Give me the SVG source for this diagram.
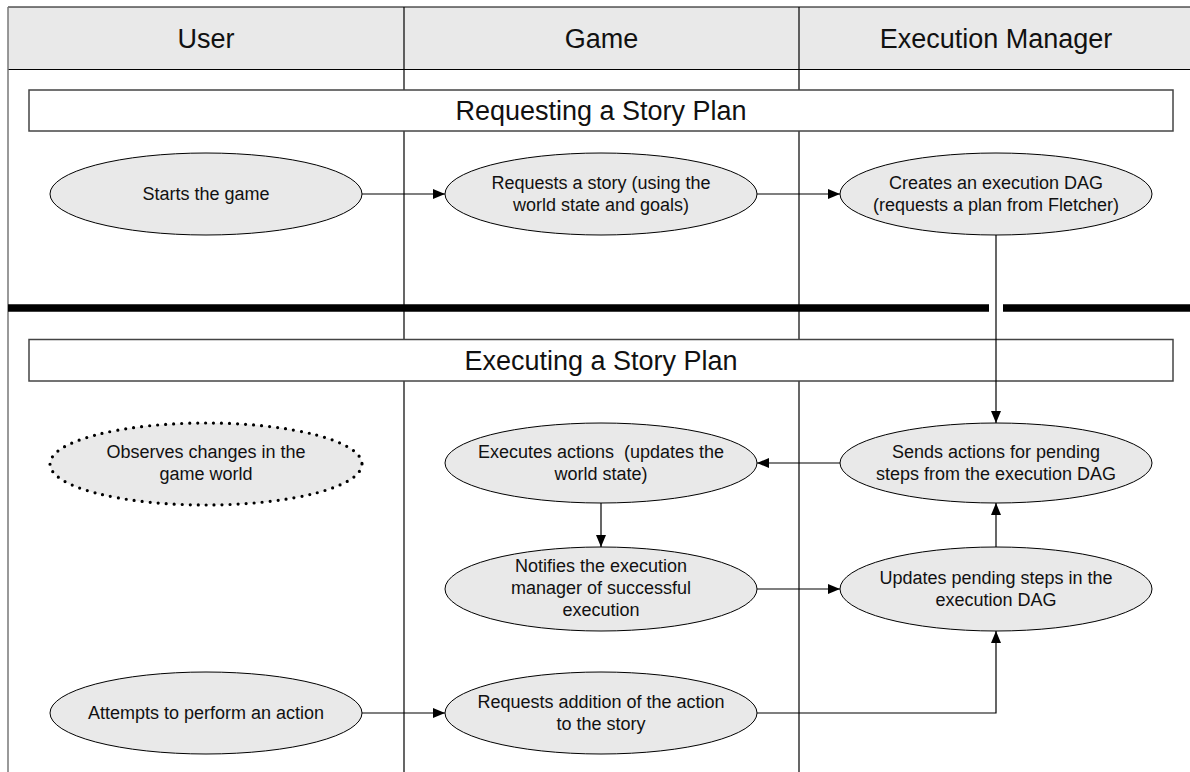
<svg xmlns="http://www.w3.org/2000/svg" width="1190" height="772" viewBox="0 0 1190 772">
  <style>
    .lane { stroke: #000; stroke-width: 1.2; fill: none; }
    .frame { stroke: #777; stroke-width: 1.5; fill: none; }
    .head { fill: #e9e9e9; stroke: none; }
    .htxt { font-family: "Liberation Sans", Arial, sans-serif; font-size: 27px; fill: #111; text-anchor: middle; }
    .phase rect { fill: #fff; stroke: #444; stroke-width: 1.5; }
    .node ellipse { fill: #e9e9e9; stroke: #000; stroke-width: 1; }
    .node text { font-family: "Liberation Sans", Arial, sans-serif; font-size: 18px; fill: #111; text-anchor: middle; white-space: pre; }
    .dotted ellipse { stroke-width: 3.2; stroke-dasharray: 0 8; stroke-linecap: round; }
    .edge { stroke: #000; stroke-width: 1.2; fill: none; marker-end: url(#arrow); }
  </style>
  <defs>
    <marker id="arrow" viewBox="0 0 12 10" refX="12" refY="5" markerWidth="12" markerHeight="10" markerUnits="userSpaceOnUse" orient="auto">
      <path d="M0,0 L12,5 L0,10 Z" fill="#000"/>
    </marker>
  </defs>

  <rect width="1190" height="772" fill="#fff"/>

  <!-- swimlane header and frame -->
  <g id="lanes">
    <rect class="head" x="8" y="7" width="1182" height="62.5"/>
    <line class="lane" x1="8" y1="7" x2="1190" y2="7"/>
    <line class="lane" x1="8" y1="69.5" x2="1190" y2="69.5"/>
    <line class="frame" x1="8" y1="7" x2="8" y2="772"/>
    <line class="lane" x1="404" y1="7" x2="404" y2="772"/>
    <line class="lane" x1="799" y1="7" x2="799" y2="772"/>
    <text class="htxt" x="206" y="47.5">User</text>
    <text class="htxt" x="601.5" y="47.5">Game</text>
    <text class="htxt" x="996" y="47.5">Execution Manager</text>
  </g>

  <!-- phase separator -->
  <g id="separator">
    <line x1="8" y1="308" x2="989" y2="308" stroke="#000" stroke-width="7.5"/>
    <line x1="1003" y1="308" x2="1190" y2="308" stroke="#000" stroke-width="7.5"/>
  </g>

  <!-- phase titles -->
  <g id="phase-request" class="phase">
    <rect x="29" y="90" width="1144" height="41"/>
    <text class="htxt" x="601" y="120">Requesting a Story Plan</text>
  </g>
  <g id="phase-execute" class="phase">
    <rect x="29" y="339.5" width="1144" height="41.5"/>
    <text class="htxt" x="601" y="370">Executing a Story Plan</text>
  </g>

  <!-- activities -->
  <g id="starts-game" class="node">
    <ellipse cx="206" cy="194" rx="156" ry="41"/>
    <text x="206" y="200">Starts the game</text>
  </g>
  <g id="requests-story" class="node">
    <ellipse cx="601" cy="194" rx="156" ry="41"/>
    <text x="601" y="189">Requests a story (using the</text>
    <text x="601" y="211">world state and goals)</text>
  </g>
  <g id="creates-dag" class="node">
    <ellipse cx="996" cy="194" rx="156" ry="41"/>
    <text x="996" y="189">Creates an execution DAG</text>
    <text x="996" y="211">(requests a plan from Fletcher)</text>
  </g>
  <g id="observes-changes" class="node dotted">
    <ellipse cx="206" cy="464" rx="156" ry="41"/>
    <text x="206" y="458">Observes changes in the</text>
    <text x="206" y="480">game world</text>
  </g>
  <g id="executes-actions" class="node">
    <ellipse cx="601" cy="463" rx="156" ry="40"/>
    <text x="601" y="458">Executes actions  (updates the</text>
    <text x="601" y="480">world state)</text>
  </g>
  <g id="sends-actions" class="node">
    <ellipse cx="996" cy="463" rx="156" ry="40"/>
    <text x="996" y="458">Sends actions for pending</text>
    <text x="996" y="480">steps from the execution DAG</text>
  </g>
  <g id="notifies-manager" class="node">
    <ellipse cx="601" cy="589" rx="156" ry="42"/>
    <text x="601" y="572">Notifies the execution</text>
    <text x="601" y="594">manager of successful</text>
    <text x="601" y="616">execution</text>
  </g>
  <g id="updates-steps" class="node">
    <ellipse cx="996" cy="589" rx="156" ry="42"/>
    <text x="996" y="584">Updates pending steps in the</text>
    <text x="996" y="606">execution DAG</text>
  </g>
  <g id="attempts-action" class="node">
    <ellipse cx="206" cy="713" rx="156" ry="41"/>
    <text x="206" y="719">Attempts to perform an action</text>
  </g>
  <g id="requests-addition" class="node">
    <ellipse cx="601" cy="713" rx="156" ry="41"/>
    <text x="601" y="708">Requests addition of the action</text>
    <text x="601" y="730">to the story</text>
  </g>

  <!-- connectors -->
  <g id="connectors">
    <line class="edge" x1="362" y1="194" x2="445" y2="194"/>
    <line class="edge" x1="757" y1="194" x2="840" y2="194"/>
    <line class="edge" x1="996" y1="235" x2="996" y2="423"/>
    <line class="edge" x1="840" y1="463" x2="757" y2="463"/>
    <line class="edge" x1="601" y1="503" x2="601" y2="547"/>
    <line class="edge" x1="757" y1="589" x2="840" y2="589"/>
    <line class="edge" x1="996" y1="547" x2="996" y2="503"/>
    <line class="edge" x1="362" y1="713" x2="445" y2="713"/>
    <polyline class="edge" points="757,713 996,713 996,631"/>
  </g>
</svg>
